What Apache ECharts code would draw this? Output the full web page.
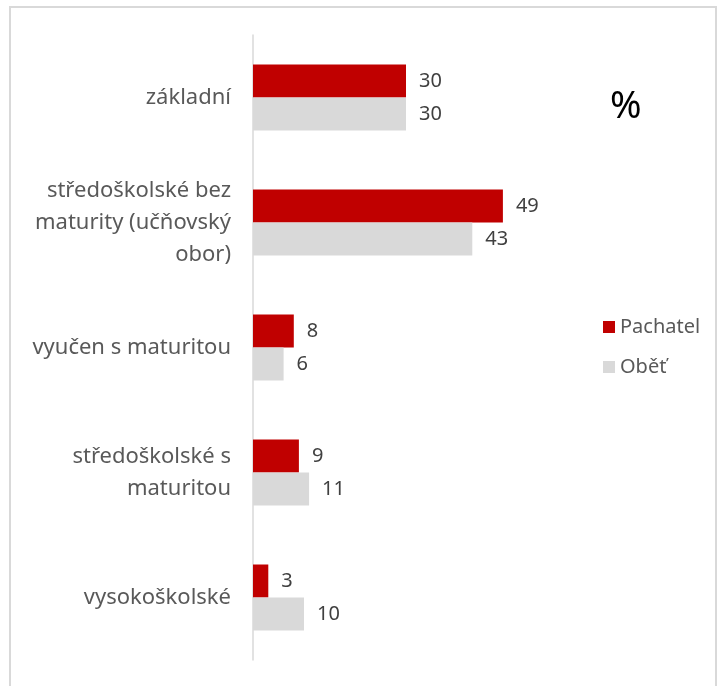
<!DOCTYPE html>
<html>
<head>
<meta charset="utf-8">
<script src="https://cdn.jsdelivr.net/npm/echarts@6/dist/echarts.min.js"></script>
<style>
  html, body { margin: 0; padding: 0; background: #fff; }
  #chart { width: 720px; height: 686px; }
</style>
</head>
<body>
<div id="chart"></div>
<script>
// kategorie vzdělání (shora dolů)
const categories = [
  'základní',
  'středoškolské bez\nmaturity (učňovský\nobor)',
  'vyučen s maturitou',
  'středoškolské s\nmaturitou',
  'vysokoškolské'
];
const pachatel = [30, 49, 8, 9, 3];
const obet = [30, 43, 6, 11, 10];
const seriesNames = ['Pachatel', 'Oběť'];

const font = '"Noto Sans", "Open Sans", sans-serif';

var myChart = echarts.init(document.getElementById('chart'));
var option = {
  animation: false,
  textStyle: { fontFamily: font },
  graphic: [
    {
      type: 'rect',
      shape: { x: 10, y: 7, width: 706, height: 700 },
      style: { fill: 'none', stroke: '#d9d9d9', lineWidth: 2 }
    },
    {
      type: 'text',
      left: 610,
      top: 88,
      style: { text: '%', fontSize: 38, fill: '#000', fontFamily: font }
    }
  ],
  legend: {
    orient: 'vertical',
    left: 598,
    top: 312,
    itemWidth: 12,
    itemHeight: 12,
    itemGap: 20,
    icon: 'rect',
    data: seriesNames,
    textStyle: { fontSize: 20, color: '#595959', fontFamily: font }
  },
  grid: { left: 253, top: 35, bottom: 26, right: 161 },
  xAxis: {
    type: 'value',
    min: 0,
    max: 60,
    show: false
  },
  yAxis: {
    type: 'category',
    inverse: true,
    data: categories,
    axisLine: { show: true, lineStyle: { color: '#d9d9d9', width: 1.5 } },
    axisTick: { show: false },
    axisLabel: {
      margin: 22,
      fontSize: 22,
      lineHeight: 32,
      color: '#595959',
      align: 'right',
      fontFamily: font
    }
  },
  series: [
    {
      name: seriesNames[0],
      type: 'bar',
      data: pachatel,
      barWidth: 33,
      barGap: '0%',
      itemStyle: { color: '#c00000' },
      label: { show: true, position: 'right', distance: 13, fontSize: 20, color: '#404040', fontFamily: font }
    },
    {
      name: seriesNames[1],
      type: 'bar',
      data: obet,
      barWidth: 33,
      barGap: '0%',
      itemStyle: { color: '#d9d9d9' },
      label: { show: true, position: 'right', distance: 13, fontSize: 20, color: '#404040', fontFamily: font }
    }
  ]
};
myChart.setOption(option);
</script>
</body>
</html>
